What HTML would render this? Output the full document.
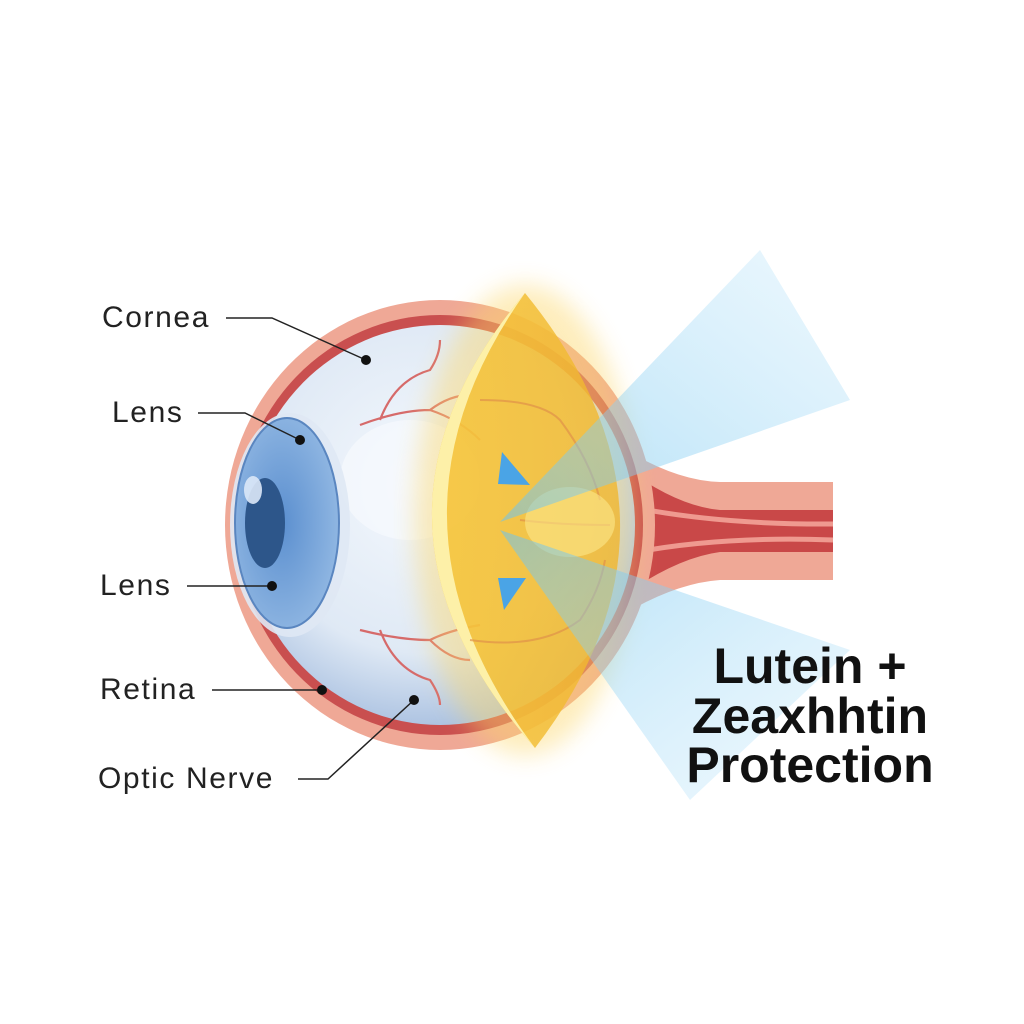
<!DOCTYPE html>
<html><head><style>
body{margin:0;background:#fff;}
svg{display:block}
</style></head><body>
<svg width="1024" height="1024" viewBox="0 0 1024 1024" xmlns="http://www.w3.org/2000/svg">
<defs>
<radialGradient id="ball" cx="0.45" cy="0.4" r="0.6">
<stop offset="0" stop-color="#f4f8fd"/><stop offset="0.7" stop-color="#dfe9f5"/><stop offset="1" stop-color="#aec4e2"/>
</radialGradient>
<radialGradient id="iris" cx="0.45" cy="0.5" r="0.55">
<stop offset="0" stop-color="#5b8fcf"/><stop offset="1" stop-color="#8fb6e2"/>
</radialGradient>
<linearGradient id="lens" x1="0" y1="0" x2="1" y2="0">
<stop offset="0" stop-color="#f6c63c"/><stop offset="1" stop-color="#f0b62e" stop-opacity="0.88"/>
</linearGradient>
<linearGradient id="beam1" x1="0" y1="1" x2="1" y2="0">
<stop offset="0" stop-color="#6cc3ee" stop-opacity="0.55"/><stop offset="1" stop-color="#bfe6fb" stop-opacity="0.3"/>
</linearGradient>
<linearGradient id="beam2" x1="0" y1="0" x2="1" y2="1">
<stop offset="0" stop-color="#6cc3ee" stop-opacity="0.55"/><stop offset="1" stop-color="#bfe6fb" stop-opacity="0.25"/>
</linearGradient>
<filter id="glow"><feGaussianBlur stdDeviation="12"/></filter>
</defs>
<path d="M560 400 Q650 480 720 482 L833 482 L833 580 L720 580 Q650 585 560 660 Z" fill="#efa896"/>
<path d="M580 430 Q660 505 720 510 L833 510 L833 552 L720 552 Q660 560 580 630 Z" fill="#c94848"/>
<path d="M600 500 Q700 525 833 524 M600 560 Q700 535 833 540" stroke="#ef9a90" stroke-width="5" fill="none"/>
<ellipse cx="440" cy="525" rx="215" ry="225" fill="#efa896"/>
<ellipse cx="440" cy="525" rx="203" ry="210" fill="#c94f4f"/>
<ellipse cx="440" cy="525" rx="195" ry="200" fill="url(#ball)"/>
<ellipse cx="410" cy="480" rx="70" ry="60" fill="#f6f9fd" opacity="0.7"/>
<g stroke="#d66a6a" stroke-width="2.2" fill="none">
<path d="M360 425 Q400 410 430 410 Q460 420 480 440 M380 420 Q395 380 430 370 Q440 355 440 340 M430 410 Q450 395 470 395"/>
<path d="M360 630 Q400 640 430 640 Q450 660 470 660 M380 630 Q395 670 430 680 Q440 695 440 705 M430 640 Q450 630 480 625"/>
</g>
<ellipse cx="290" cy="525" rx="60" ry="112" fill="#dfe8f4" opacity="0.9"/>
<ellipse cx="287" cy="523" rx="52" ry="105" fill="url(#iris)" stroke="#5a86c0" stroke-width="2"/>
<ellipse cx="265" cy="523" rx="20" ry="45" fill="#2d568a"/>
<ellipse cx="253" cy="490" rx="9" ry="14" fill="#dbe8f7" opacity="0.9"/>
<ellipse cx="525" cy="520" rx="110" ry="235" fill="#fcd76a" opacity="0.45" filter="url(#glow)"/>
<path d="M525 293 Q334 520 535 748 Q710 520 525 293 Z" fill="url(#lens)" opacity="0.9"/>
<path d="M525 293 Q334 520 535 748 Q364 520 525 293 Z" fill="#fdf0a8"/>
<g stroke="#e0914a" stroke-width="2" fill="none" opacity="0.7">
<path d="M480 400 Q540 400 560 420 Q590 460 600 500 M470 640 Q540 650 580 620 Q600 590 605 560 M520 520 Q560 525 610 525"/>
</g>
<ellipse cx="570" cy="522" rx="45" ry="35" fill="#fbe78a" opacity="0.6"/>
<path d="M500 522 L760 250 L850 400 Z" fill="url(#beam1)"/>
<path d="M500 530 L850 650 L690 800 Z" fill="url(#beam2)"/>
<polygon points="502,452 530,485 498,484" fill="#4aa4e6"/>
<polygon points="498,578 526,578 504,610" fill="#4aa4e6"/>
<g font-family="Liberation Sans, sans-serif" font-size="30" letter-spacing="1.6" fill="#222">
<text x="102" y="327">Cornea</text>
<text x="112" y="422">Lens</text>
<text x="100" y="595">Lens</text>
<text x="100" y="699">Retina</text>
<text x="98" y="788">Optic Nerve</text>
</g>
<g stroke="#222" stroke-width="1.5" fill="none">
<path d="M226 318 L272 318 L366 360"/>
<path d="M198 413 L245 413 L300 440"/>
<path d="M187 586 L272 586"/>
<path d="M212 690 L322 690"/>
<path d="M298 779 L328 779 L414 700"/>
</g>
<g fill="#111">
<circle cx="366" cy="360" r="5"/><circle cx="300" cy="440" r="5"/><circle cx="272" cy="586" r="5"/><circle cx="322" cy="690" r="5"/><circle cx="414" cy="700" r="5"/>
</g>
<g font-family="Liberation Sans, sans-serif" font-weight="bold" font-size="50" fill="#111" text-anchor="middle">
<text x="810" y="683">Lutein +</text>
<text x="810" y="733">Zeaxhhtin</text>
<text x="810" y="782">Protection</text>
</g>
</svg>
</body></html>
